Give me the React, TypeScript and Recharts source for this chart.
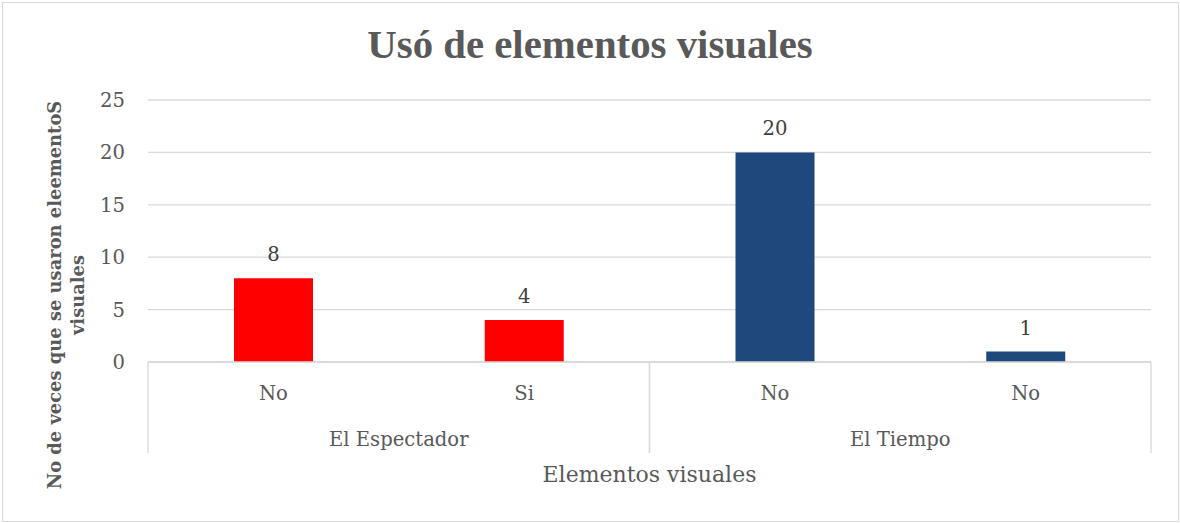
import React from 'react';
import { BarChart, Bar, XAxis, YAxis, CartesianGrid, Cell, LabelList } from 'recharts';

const categories = ['No', 'Si', 'No', 'No'];
const groups = ['El Espectador', 'El Espectador', 'El Tiempo', 'El Tiempo'];
const values = [8, 4, 20, 1];
const barColors = ['#FF0000', '#FF0000', '#1F497D', '#1F497D'];
const yTicks = [0, 5, 10, 15, 20, 25];

const titleText = 'Usó de elementos visuales';
const yTitleLine1 = 'No de veces que se usaron eleementoS';
const yTitleLine2 = 'visuales';
const xTitleText = 'Elementos visuales';

const data = categories.map((c, i) => ({
  key: `k${i}`,
  cat: c,
  group: groups[i],
  value: values[i],
}));

const W = 1180;
const H = 523;
const FONT = '"DejaVu Serif", serif';
const GREY = '#595959';
const GRID = '#D9D9D9';

const CatTick = (props: any) => {
  const { x, y, index } = props;
  return (
    <text x={x} y={y + 38} textAnchor="middle" fill={GREY} fontSize={19.6} fontFamily={FONT}>
      {categories[index]}
    </text>
  );
};

const GroupTick = (props: any) => {
  const { x, y, payload, width } = props;
  const half = (typeof width === 'number' ? width : 1003) / 4;
  return (
    <g>
      <line x1={x - half} x2={x - half} y1={y - 62} y2={y + 29} stroke={GRID} strokeWidth={1.3} />
      <line x1={x + half} x2={x + half} y1={y - 62} y2={y + 29} stroke={GRID} strokeWidth={1.3} />
      <text x={x} y={y + 22} textAnchor="middle" fill={GREY} fontSize={19.6} fontFamily={FONT}>
        {payload.value}
      </text>
    </g>
  );
};

export default function App() {
  return (
    <div style={{ position: 'absolute', left: 0, top: 0, width: W, height: H, background: '#fff' }}>
      <div
        style={{
          position: 'absolute',
          left: 2,
          top: 2,
          width: W - 5,
          height: H - 5,
          border: `1px solid ${GRID}`,
        }}
      />
      <div style={{ position: 'absolute', left: 0, top: 0 }}>
        <BarChart width={W} height={H} data={data} margin={{ top: 100, right: 29, left: 0, bottom: 33 }}>
          <CartesianGrid vertical={false} stroke={GRID} strokeWidth={1.3} />
          <YAxis
            width={148}
            domain={[0, 25]}
            ticks={yTicks}
            axisLine={false}
            tickLine={false}
            tickSize={0}
            tickMargin={23}
            interval={0}
            tick={{ fill: GREY, fontSize: 19.6, fontFamily: FONT }}
          />
          <XAxis
            xAxisId="cat"
            dataKey="key"
            height={62}
            axisLine={{ stroke: GRID, strokeWidth: 1.3 }}
            tickLine={false}
            tickSize={0}
            tickMargin={0}
            interval={0}
            tick={<CatTick />}
          />
          <XAxis
            xAxisId="grp"
            dataKey="group"
            allowDuplicatedCategory={false}
            height={66}
            axisLine={false}
            tickLine={false}
            tickSize={0}
            tickMargin={0}
            interval={0}
            tick={<GroupTick />}
            label={{
              value: xTitleText,
              position: 'insideBottom',
              offset: 8,
              fill: GREY,
              fontSize: 22,
              fontFamily: FONT,
            }}
          />
          <Bar dataKey="value" xAxisId="cat" barSize={79} isAnimationActive={false}>
            {data.map((d, i) => (
              <Cell key={d.key} fill={barColors[i]} />
            ))}
            <LabelList
              dataKey="value"
              position="top"
              offset={17}
              fill="#404040"
              fontSize={19.6}
              fontFamily={FONT}
            />
          </Bar>
        </BarChart>
      </div>
      <svg
        width={W}
        height={H}
        style={{ position: 'absolute', left: 0, top: 0, pointerEvents: 'none' }}
      >
        <text
          x={590}
          y={58}
          textAnchor="middle"
          fill={GREY}
          fontSize={40.8}
          fontWeight="bold"
          fontFamily='"Liberation Serif", serif'
        >
          {titleText}
        </text>
        <text
          x={61}
          y={295}
          transform="rotate(-90, 61, 295)"
          textAnchor="middle"
          fill={GREY}
          fontSize={17.9}
          fontWeight="bold"
          fontFamily={FONT}
        >
          {yTitleLine1}
        </text>
        <text
          x={84}
          y={295}
          transform="rotate(-90, 84, 295)"
          textAnchor="middle"
          fill={GREY}
          fontSize={17.9}
          fontWeight="bold"
          fontFamily={FONT}
        >
          {yTitleLine2}
        </text>
      </svg>
    </div>
  );
}
